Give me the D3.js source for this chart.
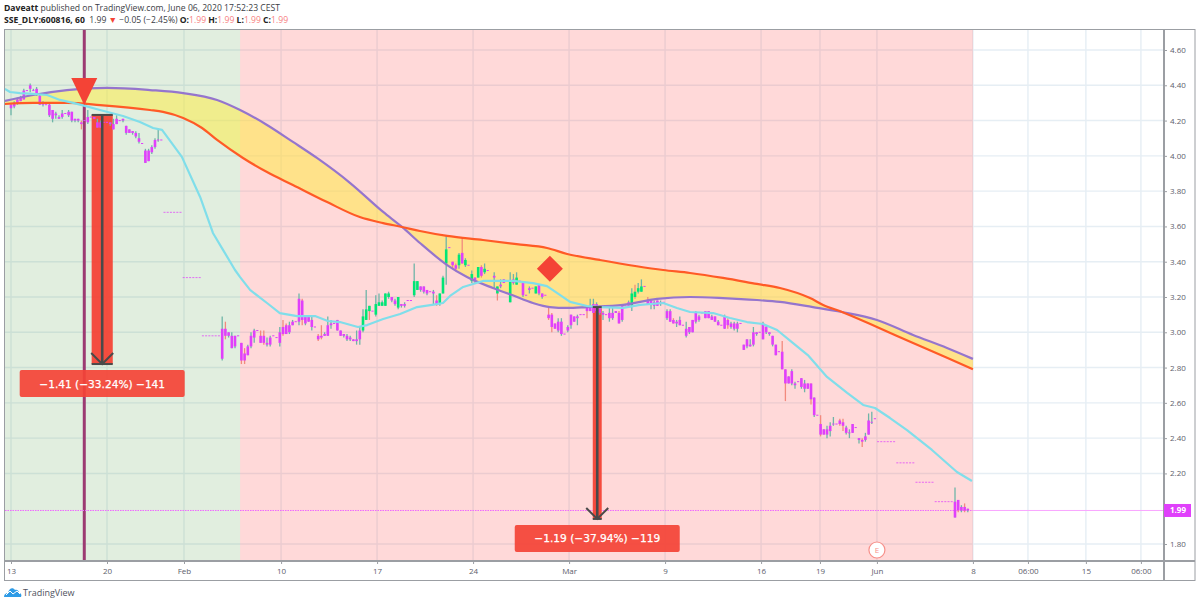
<!DOCTYPE html>
<html><head><meta charset="utf-8">
<script src="https://cdn.jsdelivr.net/npm/d3@7/dist/d3.min.js"></script>
<style>html,body{margin:0;padding:0;background:#fff}svg{display:block}text{font-family:"Open Sans",sans-serif}</style>
</head><body><svg id="c" width="1200" height="605"></svg>
<script>
// Candle rows: [bar, open, high, low, close, salmonWick?]  prices in 0.01 units
const barsJan = [[0,429,430,423,427],[1,430,431,427,428],[2,432,433,429,430],[3,433,434,431,431],[4,437,438,432,432],[5,437,437,437,437],[6,440,441,436,438],[7,437,438,437,437],[8,438,439,434,435],[9,434,435,429,429],[10,430,431,428,429],[11,429,429,429,429],[12,429,430,422,423],[13,426,426,419,421],[14,424,425,421,423],[15,422,423,421,421],[16,424,426,421,422],[17,424,424,424,424],[18,425,426,422,423],[19,425,425,419,420],[20,421,421,419,420],[21,421,421,419,420],[22,419,420,415,418,1],[23,420,420,420,420],[24,422,426,418,419],[25,422,422,422,422],[26,422,422,421,421],[27,419,421,416,416],[28,419,420,416,416],[29,419,419,419,419],[30,419,419,419,419],[31,419,419,417,418],[32,418,421,415,415],[33,421,423,418,418],[34,420,420,420,420],[35,421,421,419,420],[36,417,417,412,413],[37,415,415,413,413],[38,414,414,412,413],[39,413,414,410,411],[40,410,413,407,408],[41,407,407,407,407],[42,403,404,396,396],[43,403,404,397,397],[44,405,406,401,402],[45,409,410,404,405],[46,409,415,408,409],[47,409,409,409,409]];
const barsHalted = [[48,368],[49,368],[50,368],[51,368],[52,368],[53,368],[54,331],[55,331],[56,331],[57,331],[58,331],[59,331],[60,298],[61,298],[62,298],[63,298],[64,298],[65,298],[271,238],[272,238],[273,238],[274,238],[275,238],[276,238],[277,226],[278,226],[279,226],[280,226],[281,226],[282,226],[283,215],[284,215],[285,215],[286,215],[287,215],[288,215],[289,204],[290,204],[291,204],[292,204],[293,204],[294,204]];
const barsFeb = [[66,302,309,284,285],[67,302,306,296,298,1],[68,300,300,297,298],[69,298,300,291,291],[70,298,298,291,292],[71,298,298,298,298],[72,294,294,282,284,1],[73,288,291,282,284,1],[74,292,293,287,287],[75,298,300,291,292],[76,301,302,294,297],[77,301,301,301,301],[78,298,301,294,294,1],[79,298,301,293,294,1],[80,294,297,292,293],[81,297,298,292,293],[82,298,298,298,298],[83,297,297,297,297],[84,300,303,292,294],[85,303,307,298,299,1],[86,304,305,299,299,1],[87,304,306,299,300],[88,306,307,304,304],[89,306,306,306,306],[90,319,322,304,306],[91,318,319,304,307,1],[92,309,309,304,305],[93,309,309,306,306],[94,307,309,301,303],[95,303,303,303,303],[96,298,299,295,296,1],[97,298,304,296,297,1],[98,299,300,298,298],[99,304,309,298,298],[100,305,307,302,304],[101,305,305,305,305],[102,307,307,301,301],[103,301,301,298,298],[104,299,299,297,298],[105,298,299,295,296],[106,297,298,295,296],[107,296,296,295,295],[108,296,301,293,295],[109,301,303,293,296],[110,301,313,300,309],[111,307,324,307,313],[112,312,315,307,315,1],[113,312,312,312,312],[114,310,321,309,316],[115,315,322,315,317],[116,315,318,315,317],[117,315,322,315,322],[118,320,323,319,322],[119,320,320,317,318],[120,318,319,315,316]];
const barsLateFeb = [[121,314,320,313,320],[122,316,316,314,315],[123,316,317,314,315],[124,318,318,318,318],[125,318,318,318,318],[126,321,339,320,329],[127,324,329,324,329],[128,326,326,323,324],[129,326,326,322,323],[130,324,324,321,322],[131,323,323,323,323],[132,323,324,316,322],[133,318,321,315,316,1],[134,316,322,315,322],[135,322,332,322,331],[136,339,355,327,347],[137,348,348,348,348],[138,340,340,336,338,1],[139,338,339,335,336,1],[140,338,345,336,344],[141,345,354,339,339,1],[142,338,342,337,341],[143,338,338,338,338],[144,329,335,328,333],[145,331,331,328,329],[146,331,337,331,337],[147,337,338,331,332,1],[148,334,339,333,336],[149,335,335,335,335],[151,332,334,325,331],[152,322,326,318,326,1],[153,327,330,325,326],[154,330,330,328,328],[155,329,329,329,329],[156,317,334,317,329],[157,330,333,327,328],[158,327,334,327,331],[159,329,329,329,329],[160,328,328,320,321],[161,321,321,321,321],[162,325,326,322,324],[163,325,325,325,325],[164,322,326,322,326],[165,327,327,321,322],[166,322,322,319,320],[167,321,321,321,321]];
const barsMar = [[168,310,314,307,308,1],[169,310,311,300,303,1],[170,305,305,302,302,1],[171,306,308,300,301],[172,306,308,298,299],[173,299,299,299,299],[174,303,304,300,301],[175,310,310,302,304],[176,309,309,306,306],[177,309,310,304,308],[178,310,310,310,310],[179,310,310,310,310],[180,314,314,308,312,1],[181,315,319,312,312],[182,316,319,311,311],[183,316,317,311,312],[184,314,315,310,311],[185,311,312,307,310],[186,310,310,310,310],[187,311,315,306,308],[188,311,314,307,308],[189,312,312,311,311],[190,311,312,305,305,1],[191,315,315,306,307],[192,315,315,315,315],[193,317,318,315,315],[194,315,325,312,322],[195,320,327,319,323,1],[196,323,328,322,325],[197,323,330,323,326],[198,326,326,326,326],[199,318,320,316,316,1],[200,318,318,313,316],[201,317,318,313,315],[202,318,318,315,315],[203,317,318,315,316],[204,317,317,317,317],[205,312,313,307,308],[206,312,313,306,306],[207,307,308,305,305,1],[208,306,307,303,305],[209,307,309,304,304],[210,304,304,304,304],[211,302,306,297,298],[212,303,303,299,300],[213,307,307,300,300],[214,311,312,305,306],[215,309,310,306,307],[216,311,311,311,311],[217,312,312,308,308],[218,312,312,308,308],[219,309,310,307,307],[220,309,309,306,306],[221,306,307,304,304],[222,304,304,304,304],[223,309,310,302,302],[224,307,308,302,304,1],[225,305,306,302,303],[226,305,306,301,302],[227,305,306,300,302],[228,305,305,305,305]];
const barsMay = [[229,293,293,290,290],[230,296,296,291,292],[231,293,296,292,292],[232,300,303,292,293],[233,300,300,298,299],[234,300,300,300,300],[235,305,306,296,296],[236,303,304,299,300],[237,300,300,298,299],[238,298,298,292,293],[239,293,293,287,287],[240,289,289,289,289],[241,289,295,279,279,1],[242,279,279,261,271,1],[243,275,275,271,271],[244,278,279,270,271],[245,271,272,268,270],[246,272,272,272,272],[247,274,274,268,269],[248,271,273,266,268],[249,271,271,268,268],[250,271,271,259,262,1],[251,263,263,252,253],[252,253,253,253,253],[253,248,253,241,242,1],[254,245,245,242,242],[255,245,247,240,242],[256,247,249,241,244],[257,248,252,247,248],[258,248,248,248,248],[259,250,251,247,248,1],[260,249,251,244,247,1],[261,246,247,242,243],[262,243,245,240,243],[263,248,248,243,243],[264,246,246,246,246],[265,240,240,237,239],[266,239,240,235,238,1],[267,241,243,238,239],[268,250,254,242,242],[269,249,255,248,249],[270,251,251,251,251],[295,204,212,195,195],[296,205,205,198,199,1],[297,201,202,198,199],[298,201,203,198,199,1],[299,200,200,198,199]];

// Moving averages: [bar, price]
const maCyan = [[-1.9,4.379],[-0.3,4.362],[2.8,4.356],[6.9,4.351],[11.3,4.345],[15.3,4.317],[19.4,4.300],[23.1,4.283],[27.8,4.260],[35,4.226],[40.3,4.192],[44.4,4.158],[47.2,4.147],[53.4,3.994],[59.1,3.767],[63.1,3.563],[66.3,3.466],[70,3.353],[71.6,3.313],[74.7,3.240],[80,3.166],[84,3.109],[89.4,3.092],[95,3.092],[99,3.064],[102.8,3.058],[108.4,3.030],[111.3,3.041],[116.3,3.075],[121.6,3.104],[126.9,3.143],[133.1,3.160],[135,3.166],[137.2,3.206],[141.3,3.257],[144.4,3.274],[147.5,3.291],[152.8,3.291],[156.9,3.291],[163.1,3.279],[167.5,3.262],[170.6,3.223],[174.7,3.172],[180,3.149],[184,3.143],[191.3,3.138],[196.6,3.155],[203.8,3.166],[208.1,3.138],[212.2,3.115],[219.4,3.109],[224.7,3.081],[230,3.058],[235,3.047],[239.4,3.013],[244.4,2.939],[249,2.871],[255,2.747],[261.3,2.656],[266.3,2.588],[270,2.571],[274.7,2.514],[280,2.446],[287.8,2.333],[295.6,2.208],[300.3,2.157]];
const maPurple = [[-1.9,4.311],[6.9,4.345],[17.5,4.373],[30,4.385],[43.4,4.373],[53.8,4.356],[64.4,4.317],[71.6,4.260],[80,4.175],[88.1,4.079],[95.6,3.988],[106,3.846],[116.3,3.682],[122.2,3.597],[127.8,3.506],[136.3,3.381],[142.5,3.313],[150.6,3.251],[156.6,3.211],[163.1,3.166],[168.4,3.143],[173.8,3.138],[180,3.143],[191.3,3.155],[201.9,3.189],[212.2,3.200],[222.5,3.194],[233.1,3.183],[240.3,3.172],[250.6,3.143],[259.7,3.115],[270.6,3.070],[281.9,2.985],[292.5,2.911],[300.6,2.849]];
const maOrange = [[-1.9,4.294],[6.9,4.300],[17.5,4.300],[27.8,4.288],[43.4,4.260],[47.5,4.249],[53.8,4.215],[59.7,4.158],[64.4,4.090],[72.5,3.988],[80,3.908],[88.1,3.835],[98.8,3.738],[109,3.653],[116.3,3.619],[122.2,3.597],[127.8,3.574],[136.3,3.546],[147.5,3.523],[158,3.500],[167.5,3.478],[173.8,3.444],[184,3.410],[203.8,3.353],[212.2,3.336],[222.5,3.308],[233.1,3.274],[240.3,3.251],[249.7,3.194],[253.8,3.155],[259.7,3.115],[270.6,3.030],[281.9,2.939],[292.5,2.856],[300.6,2.790]];

const priceTicks = [4.6,4.4,4.2,4.0,3.8,3.6,3.4,3.2,3.0,2.8,2.6,2.4,2.2,1.8];
const timeTickBars = [0,30,54.06,84.4,114.4,144.4,174.4,204.4,234.4,252.8,270.6,300.6,317.8,335.9,353.1];
const timeTickLabels = ["13","20","Feb","10","17","24","Mar","9","16","19","Jun","8","06:00","15","06:00"];
const lastPrice = 1.99;
const regimeBars = [-2.2, 71.6, 300.6];            // green → red → end
const measures = [{bar:28.5, from:4.232, to:2.82, half:3.3, label:"−1.41 (−33.24%) −141", box:[2.633,2.786]},
                  {bar:183.2, from:3.143, to:1.942, half:1.4, label:"−1.19 (−37.94%) −119", box:[1.755,1.908]}];
const markerBar = 22.9, sellPrice = 4.288, diamondBar = 168.4, diamondPrice = 3.36;

const L = 5, R = 1164, T = 30, B = 561;
const x = d3.scaleLinear().domain([0,300]).range([11,971]);
const y = d3.scaleLinear().domain([1.8,4.6]).range([544,50]);
const svg = d3.select("#c");
const MAG="#e040fb", GRN="#00e676", TEAL="#6fb5a8", SAL="#f28a7e", RED="#f44336", DARK="#4a4a4a", AXC="#9b9ea3", TXT="#5d606b";

svg.append("defs").append("clipPath").attr("id","pane").append("rect").attr("x",L).attr("y",T).attr("width",R-L).attr("height",B-T);
const pane = svg.append("g").attr("clip-path","url(#pane)");

// grid
const grid = pane.append("g").attr("stroke","#e6eef4").attr("stroke-width",1.4);
grid.selectAll(".v").data(timeTickBars).join("line").attr("x1",d=>x(d)).attr("x2",d=>x(d)).attr("y1",T).attr("y2",B);
grid.selectAll(".h").data(priceTicks).join("line").attr("x1",L).attr("x2",R).attr("y1",d=>y(d)).attr("y2",d=>y(d));

// regimes (translucent, so the grid shows through)
pane.append("rect").attr("x",L).attr("y",T).attr("width",x(regimeBars[1])-L).attr("height",B-T).attr("fill","#4c9a40").attr("fill-opacity",.17);
pane.append("rect").attr("x",x(regimeBars[1])).attr("y",T).attr("width",x(regimeBars[2])-x(regimeBars[1])).attr("height",B-T).attr("fill","#ff5252").attr("fill-opacity",.22);

// vertical marker
pane.append("line").attr("x1",x(markerBar)).attr("x2",x(markerBar)).attr("y1",T).attr("y2",B).attr("stroke","#9c3a72").attr("stroke-width",3);

// band
const line = d3.line().x(d=>x(d[0])).y(d=>y(d[1])).curve(d3.curveMonotoneX);
const polyline = d3.line().x(d=>x(d[0])).y(d=>y(d[1]));
pane.append("path").attr("d",line(maPurple)+"L"+line(maOrange.slice().reverse()).slice(1)+"Z").attr("fill","#ffeb3b").attr("fill-opacity",.5);

// price line
pane.append("line").attr("x1",L).attr("x2",x(regimeBars[2])).attr("y1",y(lastPrice)).attr("y2",y(lastPrice)).attr("stroke","#ee66ff").attr("stroke-width",1).attr("stroke-dasharray","1.5 1");
pane.append("line").attr("x1",x(regimeBars[2])).attr("x2",R).attr("y1",y(lastPrice)).attr("y2",y(lastPrice)).attr("stroke","#f9a6ff").attr("stroke-width",1);

// measure rectangles
measures.forEach(m=>{
  pane.append("rect").attr("x",x(m.bar-m.half)).attr("width",x(m.bar+m.half)-x(m.bar-m.half)).attr("y",y(m.from)).attr("height",y(m.to)-y(m.from)).attr("fill",RED).attr("fill-opacity",.95);
});

// candles
const all = [...barsJan,...barsFeb,...barsLateFeb,...barsMar,...barsMay];
const cv = c=>y(c/100);
const cg = pane.append("g");
cg.selectAll("line").data(all.filter(d=>d[2]!==d[3])).join("line")
  .attr("x1",d=>x(d[0])).attr("x2",d=>x(d[0])).attr("y1",d=>cv(d[2])).attr("y2",d=>cv(d[3]))
  .attr("stroke",d=>d[5]?SAL:TEAL).attr("stroke-width",1.3);
cg.selectAll("rect.b").data(all).join("rect").attr("class","b")
  .attr("x",d=>x(d[0])-(d[1]===d[4]?1.2:1.3)).attr("width",d=>d[1]===d[4]?2.2:2.6)
  .attr("y",d=>d[1]===d[4]?cv(d[1])-.5:cv(Math.max(d[1],d[4])))
  .attr("height",d=>d[1]===d[4]?1:cv(Math.min(d[1],d[4]))-cv(Math.max(d[1],d[4])))
  .attr("fill",d=>d[4]>d[1]?GRN:MAG);
cg.selectAll("rect.h").data(barsHalted).join("rect").attr("class","h")
  .attr("x",d=>x(d[0])-1.1).attr("width",2).attr("y",d=>cv(d[1])-.5).attr("height",1).attr("fill",MAG).attr("fill-opacity",.75);

// moving averages
pane.append("path").attr("d",line(maPurple)).attr("fill","none").attr("stroke","#9575cd").attr("stroke-width",2.2);
pane.append("path").attr("d",line(maOrange)).attr("fill","none").attr("stroke","#ff5a26").attr("stroke-width",2.2);
pane.append("path").attr("d",polyline(maCyan)).attr("fill","none").attr("stroke","#80deea").attr("stroke-width",2.2).attr("stroke-linejoin","round");

// arrows + labels
measures.forEach(m=>{
  const cx=x(m.bar), y0=y(m.from), y1=y(m.to), h=x(m.bar+m.half)-cx, g=pane.append("g").attr("stroke",DARK).attr("fill","none");
  g.append("line").attr("x1",cx).attr("x2",cx).attr("y1",y0).attr("y2",y1).attr("stroke-width",2.6);
  g.append("line").attr("x1",cx-h).attr("x2",cx+h).attr("y1",y0).attr("y2",y0).attr("stroke-width",2);
  g.append("line").attr("x1",cx-h).attr("x2",cx+h).attr("y1",y1).attr("y2",y1).attr("stroke-width",2);
  g.append("path").attr("d",d3.line()([[cx-11,y1-11],[cx,y1],[cx+11,y1-11]])).attr("stroke-width",2);
  const bw=165;
  pane.append("rect").attr("x",cx-bw/2).attr("width",bw).attr("y",y(m.box[1])).attr("height",y(m.box[0])-y(m.box[1])).attr("rx",2).attr("fill","#f44336").attr("fill-opacity",.92);
  pane.append("text").attr("x",cx).attr("y",(y(m.box[0])+y(m.box[1]))/2+4).attr("text-anchor","middle").attr("fill","#fff").attr("stroke","#fff").attr("stroke-width",.25).style("font-family","'DejaVu Sans',sans-serif").style("font-size","10.6px").text(m.label);
});

// triangle & diamond
const tx=x(markerBar), ty=y(sellPrice);
pane.append("path").attr("d",d3.line()([[tx-13,ty-27],[tx+13,ty-27],[tx,ty]])+"Z").attr("fill",RED);
const dx=x(diamondBar), dy=y(diamondPrice);
pane.append("path").attr("d",d3.line()([[dx,dy-13],[dx+13,dy],[dx,dy+13],[dx-13,dy]])+"Z").attr("fill",RED);

// earnings badge
const eg=pane.append("g").attr("transform",`translate(${x(270.6)},550)`);
eg.append("circle").attr("r",8).attr("fill","#fff").attr("stroke","#f7908a").attr("stroke-width",1.2);
eg.append("text").attr("y",3).attr("text-anchor","middle").attr("font-size",8).attr("fill","#f7908a").text("E");

// axes
const ay=svg.append("g").attr("transform",`translate(${R},0)`).call(d3.axisRight(y).tickValues(priceTicks).tickFormat(d3.format(".2f")).tickSize(3).tickPadding(3));
const ax=svg.append("g").attr("transform",`translate(0,${B})`).call(d3.axisBottom(x).tickValues(timeTickBars).tickFormat((d,i)=>timeTickLabels[i]).tickSize(3).tickPadding(4));
[ay,ax].forEach(a=>{a.select(".domain").remove();a.selectAll("line").attr("stroke",AXC);a.selectAll("text").attr("fill",TXT).attr("font-size",8).style("font-family","'Open Sans',sans-serif");});

// frame
const fr=svg.append("g").attr("stroke",AXC).attr("fill","none");
fr.append("rect").attr("x",4.5).attr("y",29.5).attr("width",1190.5).attr("height",551);
fr.append("line").attr("x1",4.5).attr("x2",1195).attr("y1",B).attr("y2",B).attr("stroke-width",2);
fr.append("line").attr("x1",R).attr("x2",R).attr("y1",29.5).attr("y2",580.5).attr("stroke-width",2);

// last price tag
svg.append("rect").attr("x",R).attr("y",y(lastPrice)-6.5).attr("width",27).attr("height",13).attr("fill",MAG);
svg.append("text").attr("x",R+14).attr("y",y(lastPrice)+3).attr("text-anchor","middle").attr("fill","#fff").attr("font-size",8).attr("font-weight",700).text("1.99");

// header
const h1=svg.append("text").attr("x",4).attr("y",11).attr("font-size",8.6).attr("fill","#3a3d45");
h1.append("tspan").attr("font-weight",700).attr("fill","#222").text("Daveatt");
h1.append("tspan").text(" published on TradingView.com, June 06, 2020 17:52:23 CEST");
const h2=svg.append("text").attr("x",4).attr("y",22.5).attr("font-size",8.6).attr("fill","#3a3d45");
const U="#f77f7f";
[["SSE_DLY:600816, 60",700,"#222"],["  1.99 ",400,"#3a3d45"],["▼",400,"#f44336"],[" −0.05 (−2.45%) ",400,"#3a3d45"],["O:",700,"#222"],["1.99",400,U],[" H:",700,"#222"],["1.99",400,U],[" L:",700,"#222"],["1.99",400,U],[" C:",700,"#222"],["1.99",400,U]]
 .forEach(s=>h2.append("tspan").attr("font-weight",s[1]).attr("fill",s[2]).style("white-space","pre").text(s[0]));

// footer logo
const lg=svg.append("g").attr("transform","translate(4,585)");
lg.append("path").attr("d","M0 12 C0 9 2 8 4 8 C5 3 9 2 11 5 C13 4 15 6 15 8 C17 8 18 10 17 12 Z").attr("fill","#2e9be6");
lg.append("path").attr("d","M2 10 L6 6 L9 9 L13 6 L16 9").attr("fill","none").attr("stroke","#fff").attr("stroke-width",1);
svg.append("text").attr("x",23).attr("y",596).attr("font-size",9).attr("fill","#50535e").text("TradingView");
</script></body></html>
